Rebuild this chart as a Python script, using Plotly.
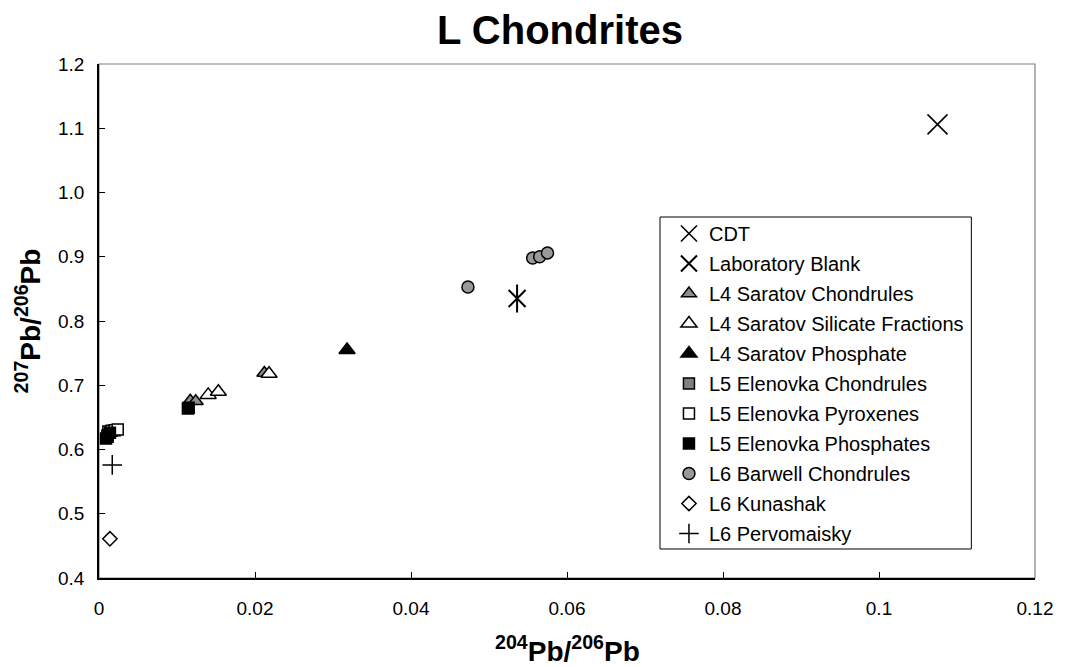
import plotly.graph_objects as go

# Pb isotope ratios for L chondrite samples
cdt_x = [0.1075]
cdt_y = [1.106]

blank_x = [0.0536]
blank_y = [0.835]

saratov_chondrules_x = [0.0117, 0.0124, 0.0212]
saratov_chondrules_y = [0.676, 0.675, 0.719]

saratov_silicate_x = [0.0140, 0.0153, 0.0218]
saratov_silicate_y = [0.685, 0.690, 0.718]

saratov_phosphate_x = [0.0318]
saratov_phosphate_y = [0.755]

elenovka_chondrules_x = [0.0011, 0.0114]
elenovka_chondrules_y = [0.620, 0.664]

elenovka_pyroxenes_x = [0.0012, 0.0016, 0.0020, 0.0024]
elenovka_pyroxenes_y = [0.628, 0.629, 0.630, 0.631]

elenovka_phosphates_x = [0.0009, 0.0011, 0.0014, 0.0115]
elenovka_phosphates_y = [0.617, 0.622, 0.626, 0.665]

barwell_x = [0.0473, 0.0556, 0.0565, 0.0575]
barwell_y = [0.853, 0.898, 0.900, 0.906]

kunashak_x = [0.0014]
kunashak_y = [0.461]

pervomaisky_x = [0.0017]
pervomaisky_y = [0.576]

x_ticks = [0, 0.02, 0.04, 0.06, 0.08, 0.1, 0.12]
x_tick_labels = ["0", "0.02", "0.04", "0.06", "0.08", "0.1", "0.12"]
y_ticks = [0.4, 0.5, 0.6, 0.7, 0.8, 0.9, 1.0, 1.1, 1.2]
y_tick_labels = ["0.4", "0.5", "0.6", "0.7", "0.8", "0.9", "1.0", "1.1", "1.2"]

FONT = "Liberation Sans, Arial, sans-serif"
W, H = 1065, 667
L, R, T, B = 99, 25, 64, 89
PW, PH = W - L - R, H - T - B


def px_x(p):
    return (p - L) / PW


def px_y(p):
    return (H - B - p) / PH


fig = go.Figure()


def add(name, xs, ys, symbol, size, fill, line_color="black", line_width=1.5,
        showlegend=True, group=None):
    fig.add_trace(go.Scatter(
        x=xs, y=ys, mode="markers", name=name,
        legendgroup=group or name, showlegend=showlegend,
        marker=dict(symbol=symbol, size=size, color=fill,
                    line=dict(color=line_color, width=line_width)),
        hoverinfo="x+y+name",
    ))


add("CDT", cdt_x, cdt_y, "x-thin-open", 20, "black", line_width=1.6)
add("Laboratory Blank", blank_x, blank_y, "x-thin-open", 17, "black", line_width=2)
add("Laboratory Blank", blank_x, blank_y, "line-ns-open", 20, "black", line_width=2,
    showlegend=False, group="Laboratory Blank")
add("L4 Saratov Chondrules", saratov_chondrules_x, saratov_chondrules_y,
    "triangle-up", 13, "#8c8c8c")
add("L4 Saratov Silicate Fractions", saratov_silicate_x, saratov_silicate_y,
    "triangle-up", 14, "white")
add("L4 Saratov Phosphate", saratov_phosphate_x, saratov_phosphate_y,
    "triangle-up", 14, "black")
add("L5 Elenovka Chondrules", elenovka_chondrules_x, elenovka_chondrules_y,
    "square", 11, "#808080")
add("L5 Elenovka Pyroxenes", elenovka_pyroxenes_x, elenovka_pyroxenes_y,
    "square", 11, "white")
add("L5 Elenovka Phosphates", elenovka_phosphates_x, elenovka_phosphates_y,
    "square", 11, "black")
add("L6 Barwell Chondrules", barwell_x, barwell_y, "circle", 12, "#999999")
add("L6 Kunashak", kunashak_x, kunashak_y, "diamond", 11, "white")
add("L6 Pervomaisky", pervomaisky_x, pervomaisky_y, "cross-thin-open", 14, "black")

axis_common = dict(
    ticks="inside", ticklen=6, tickwidth=1, tickcolor="black",
    showgrid=False, zeroline=False, showline=True, linecolor="black", linewidth=1.5,
    tickfont=dict(family=FONT, size=19, color="black"),
)

fig.update_xaxes(range=[0, 0.12], tickvals=x_ticks, ticktext=x_tick_labels,
                 ticklabelstandoff=12, **axis_common)
fig.update_yaxes(range=[0.4, 1.2], tickvals=y_ticks, ticktext=y_tick_labels,
                 ticklabelstandoff=9, **axis_common)

# plot-area frame (top and right edges) and legend box
fig.add_shape(type="rect", xref="paper", yref="paper", x0=0, x1=1, y0=0, y1=1,
              line=dict(color="#808080", width=1.2), layer="below")
fig.add_shape(type="rect", xref="paper", yref="paper",
              x0=px_x(663), x1=px_x(976), y0=px_y(549), y1=px_y(217),
              line=dict(color="black", width=1), fillcolor="white", layer="below")

fig.add_annotation(text="<b><sup>204</sup>Pb/<sup>206</sup>Pb</b>",
                   xref="paper", yref="paper", x=0.5, y=px_y(649),
                   xanchor="center", yanchor="middle", showarrow=False,
                   font=dict(family=FONT, size=28, color="black"))
fig.add_annotation(text="<b><sup>207</sup>Pb/<sup>206</sup>Pb</b>",
                   xref="paper", yref="paper", x=px_x(28), y=0.5, textangle=-90,
                   xanchor="center", yanchor="middle", showarrow=False,
                   font=dict(family=FONT, size=28, color="black"))

fig.update_layout(
    width=W, height=H,
    margin=dict(l=L, r=R, t=T, b=B),
    paper_bgcolor="white", plot_bgcolor="white",
    title=dict(text="<b>L Chondrites</b>", x=560 / W, xref="container",
               y=1 - 30 / H, yref="container", xanchor="center", yanchor="middle",
               font=dict(family=FONT, size=40, color="black")),
    legend=dict(x=px_x(672), y=px_y(214), xanchor="left", yanchor="top",
                bgcolor="rgba(0,0,0,0)", borderwidth=0, tracegroupgap=1,
                font=dict(family=FONT, size=20, color="black"),
                itemsizing="trace"),
    showlegend=True,
)

fig.write_html("out.html")
